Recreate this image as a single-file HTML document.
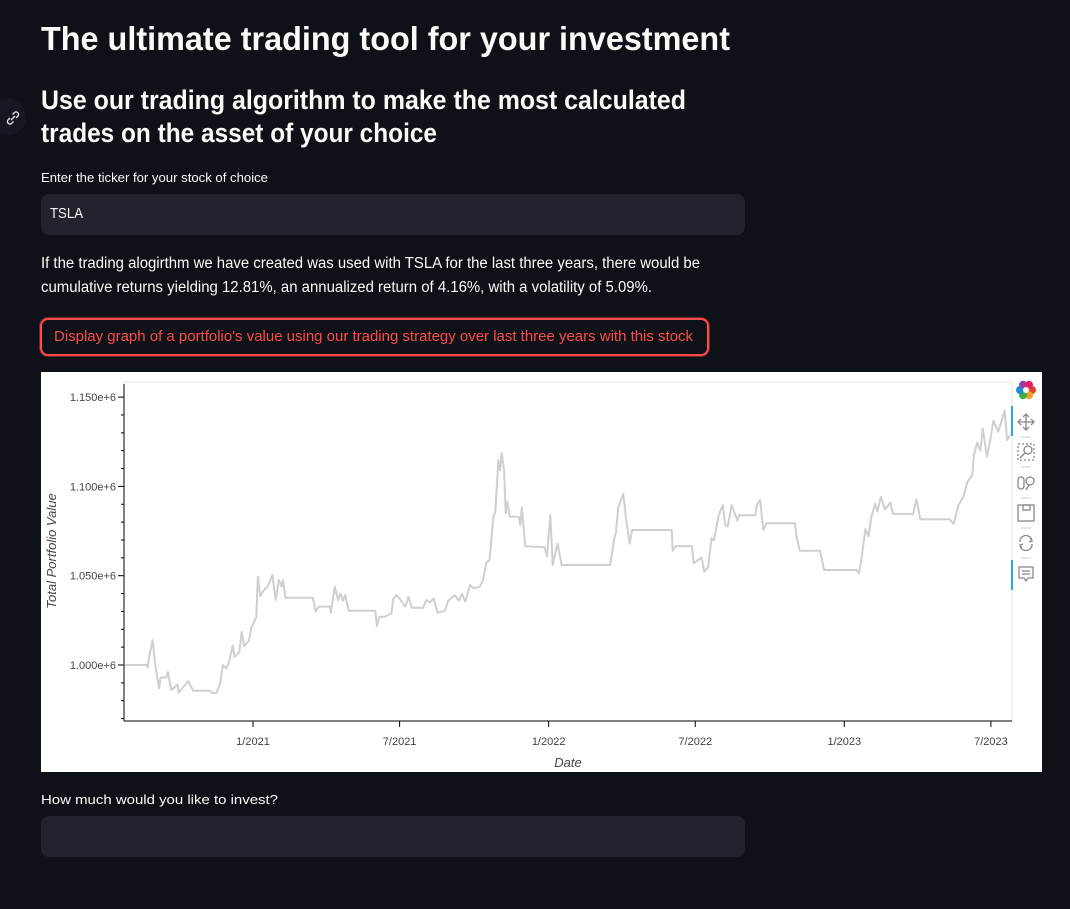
<!DOCTYPE html>
<html><head><meta charset="utf-8">
<style>
html,body{margin:0;padding:0;background:#0e1117;width:1070px;height:909px;overflow:hidden;font-family:"Liberation Sans",sans-serif;color:#fafafa}
.t{position:absolute;white-space:nowrap;transform-origin:0 50%;line-height:1}
.box{position:absolute;background:#21222b;border-radius:8px}
</style></head><body>
<div class="t fit" data-w="689" style="left:41px;top:22px;font-size:33px;font-weight:bold">The ultimate trading tool for your investment</div>
<div style="position:absolute;left:-12px;top:98px;width:38px;height:38px;border-radius:50%;background:#151821"></div>
<svg style="position:absolute;left:4px;top:109px" width="18" height="18" viewBox="0 0 18 18"><path d="M7 11l4-4M6 9l-2 2a2.5 2.5 0 0 0 3.5 3.5l2-2M12 9l2-2a2.5 2.5 0 0 0-3.5-3.5l-2 2" stroke="#e6e6e6" stroke-width="1.4" fill="none"/></svg>
<div class="t fit" data-w="645" style="left:41px;top:87px;font-size:27px;font-weight:bold">Use our trading algorithm to make the most calculated</div>
<div class="t fit" data-w="396" style="left:41px;top:120px;font-size:27px;font-weight:bold">trades on the asset of your choice</div>
<div class="t fit" data-w="227" style="left:41px;top:171px;font-size:13px">Enter the ticker for your stock of choice</div>
<div class="box" style="left:41px;top:194px;width:704px;height:41px"></div>
<div class="t fit" data-w="33" style="left:50px;top:206px;font-size:15px">TSLA</div>
<div class="t fit" data-w="659" style="left:41px;top:256px;font-size:15.5px">If the trading alogirthm we have created was used with TSLA for the last three years, there would be</div>
<div class="t fit" data-w="611" style="left:41px;top:280px;font-size:15.5px">cumulative returns yielding 12.81%, an annualized return of 4.16%, with a volatility of 5.09%.</div>
<div style="position:absolute;left:40px;top:318px;width:665px;height:34px;border:2px solid #ff4b4b;border-radius:8px;box-shadow:0 0 0 1px rgba(255,75,75,0.4)"></div>
<div class="t fit" data-w="639" style="left:54px;top:329px;font-size:15px;color:#ff4b4b">Display graph of a portfolio's value using our trading strategy over last three years with this stock</div>

<div style="position:absolute;left:41px;top:372px;width:1001px;height:400px;background:#fff"></div>
<svg id="chart" style="position:absolute;left:0;top:0" width="1070" height="909"></svg>

<div class="t fit" data-w="237" style="left:41px;top:793px;font-size:13px">How much would you like to invest?</div>
<div class="box" style="left:41px;top:816px;width:704px;height:41px"></div>

<script>
// days since 2021-01-01
const days = [-158,-131,-130,-128,-124,-121,-116,-114,-107,-105,-101,-93,-92,-80,-74,-53,-51,-45,-41,-37,-33,-30,-25,-23,-17,-14,-11,-5,-2,4,6,9,13,19,24,28,32,35,37,40,74,77,81,95,96,101,105,108,111,114,118,151,153,156,163,171,173,177,182,188,192,196,210,214,218,223,228,237,241,249,254,258,262,268,272,280,284,288,292,297,299,303,305,307,310,312,314,317,328,330,332,336,360,363,367,370,376,381,441,446,448,451,457,461,465,468,517,518,522,542,544,554,557,562,566,569,575,580,583,586,591,598,600,620,622,626,630,634,669,671,675,700,705,745,748,751,756,760,763,768,771,775,780,787,790,815,819,824,860,865,871,877,882,888,890,894,898,901,906,911,914,920,928,931,935];
const values = [1000,1000,998.5,1005,1014,1001,987,993,993,996,986,989,984.5,991,985.6,985.6,984.5,984.5,989,1000,998,1001,1011,1004.5,1007,1018.6,1010.6,1013.6,1021,1026.7,1049.5,1038.6,1041.6,1044.8,1050.4,1036.4,1047.6,1044,1047.6,1037.7,1037.7,1029.9,1032.7,1032.7,1029.3,1043.8,1036.4,1040,1036,1039.2,1030.4,1030.4,1021.8,1027,1027,1029,1036.8,1039.2,1036.5,1032.7,1038.2,1032.1,1032.1,1036.4,1035,1037.3,1029.3,1030.4,1036,1039.2,1036,1039.8,1035.5,1044.8,1043,1043.8,1047.6,1057.3,1058.8,1084,1084.9,1114.8,1109,1118.6,1109,1085,1091.5,1083,1083,1078.4,1088.3,1066.6,1065.9,1061,1084,1056,1068,1056,1056,1071,1074,1088.3,1095.8,1080.3,1068,1075.6,1075.6,1064,1066.6,1066.6,1057,1060.2,1052.2,1055,1071,1069.7,1084,1089.6,1078.4,1077.5,1089.6,1080.8,1083.8,1083.8,1089.6,1092.4,1075.6,1079.4,1079.4,1072,1064,1064,1053.2,1053.2,1051.3,1058.8,1076,1072,1082,1090.4,1086,1094.2,1087,1091,1084.6,1084.6,1092.8,1081.6,1081.6,1079,1089.6,1094.2,1102.6,1106.4,1117.6,1124.5,1120,1132.5,1116.6,1128,1136.8,1130.6,1142.4,1126,1128.8];
const yTicks = [1000,1050,1100,1150];
const yTickLabels = ["1.000e+6","1.050e+6","1.100e+6","1.150e+6"];
const xTicks = [0,181,365,546,730,911];
const xTickLabels = ["1/2021","7/2021","1/2022","7/2022","1/2023","7/2023"];

const L=124,R=1012,T=382,B=721;
const x = d => 253 + d*0.81;
const y = v => 665 - (v-1000)*(89.3/50);
const NS="http://www.w3.org/2000/svg";
const svg=document.getElementById('chart');
function mk(tag,attrs,parent){const e=document.createElementNS(NS,tag);for(const k in attrs)e.setAttribute(k,attrs[k]);(parent||svg).appendChild(e);return e;}

const frame=mk('rect',{x:L,y:T,width:R-L,height:B-T,fill:'none',stroke:'#e5e5e5','stroke-width':1});



let pts=days.map((d,i)=>x(d).toFixed(1)+','+y(values[i]).toFixed(1)).join(' ');
const line=mk('polyline',{points:pts,fill:'none',stroke:'#cfcfcf','stroke-width':2,'stroke-linejoin':'round'});



const ax=mk('line',{x1:L,y1:T+2,x2:L,y2:B,stroke:'#000','stroke-width':1});


const bx=mk('line',{x1:L,y1:B,x2:R,y2:B,stroke:'#000','stroke-width':1});



for(let v=970;v<=1150;v+=10){const yy=y(v);if(yy<T||yy>B)continue;const major=yTicks.indexOf(v)>=0;
  const tk=mk('line',{x1:L-(major?6:3),y1:yy,x2:L,y2:yy,stroke:'#000'});
  
  }
yTicks.forEach((v,i)=>{const t=mk('text',{x:L-8,y:y(v)+4,'text-anchor':'end','font-size':11,fill:'#444','font-family':'Liberation Sans, sans-serif'});t.textContent=yTickLabels[i];
  
  });
xTicks.forEach((d,i)=>{const xx=x(d);
  const tk=mk('line',{x1:xx,y1:B,x2:xx,y2:B+6,stroke:'#000'});
  
  
  const t=mk('text',{x:xx,y:B+24,'text-anchor':'middle','font-size':11,fill:'#444','font-family':'Liberation Sans, sans-serif'});t.textContent=xTickLabels[i];
  
  });
const xt=mk('text',{x:568,y:767,'text-anchor':'middle','font-size':13,'font-style':'italic',fill:'#444','font-family':'Liberation Sans, sans-serif'});xt.textContent='Date';


const yt=mk('text',{x:0,y:0,'text-anchor':'middle','font-size':13,'font-style':'italic',fill:'#444','font-family':'Liberation Sans, sans-serif',transform:'translate(56,551) rotate(-90)'});yt.textContent='Total Portfolio Value';



// toolbar
const tb=mk('g',{});


const cols=['#e5412d','#f0a322','#3aae49','#1d8fd3','#8e44ad','#e91e63'];
cols.forEach((c,i)=>{const a=i*Math.PI/3;mk('circle',{cx:1026+6*Math.cos(a),cy:390+6*Math.sin(a),r:4,fill:c},tb);});
mk('circle',{cx:1026,cy:390,r:3,fill:'#fff'},tb);
[[406,436],[560,590]].forEach(r=>{const b=mk('rect',{x:1011,y:r[0],width:2,height:r[1]-r[0],fill:'#26aae1'});
  
  });
const icons=[['pan-tool',422],['box-zoom-tool',452],['wheel-zoom-tool',483],['save-tool',513],['reset-tool',543],['hover-tool',574]];
icons.forEach(ic=>{const g=mk('g',{transform:'translate(1026,'+ic[1]+')'});
  
  
  const s={stroke:'#888',fill:'none','stroke-width':1.3};
  if(ic[0]==='pan-tool'){mk('path',Object.assign({d:'M-8 0H8M0 -8V8M-5 -3L-8 0L-5 3M5 -3L8 0L5 3M-3 -5L0 -8L3 -5M-3 5L0 8L3 5'},s),g);}
  else if(ic[0]==='box-zoom-tool'){mk('rect',Object.assign({x:-8,y:-8,width:16,height:16,'stroke-dasharray':'2 2'},s),g);mk('circle',Object.assign({cx:2,cy:-2,r:4},s),g);mk('path',Object.assign({d:'M-1 1L-6 6'},s),g);}
  else if(ic[0]==='wheel-zoom-tool'){mk('rect',Object.assign({x:-8,y:-6,width:6,height:12,rx:3},s),g);mk('circle',Object.assign({cx:4,cy:-2,r:4},s),g);mk('path',Object.assign({d:'M3 2L0 7'},s),g);}
  else if(ic[0]==='save-tool'){mk('rect',Object.assign({x:-8,y:-8,width:16,height:16},s),g);mk('rect',Object.assign({x:-3,y:-8,width:7,height:5},s),g);}
  else if(ic[0]==='reset-tool'){mk('path',Object.assign({d:'M-6 -1A6 6 0 0 1 6 -2M6 1A6 6 0 0 1 -6 2M4 -5L6 -2L3 -1M-4 5L-6 2L-3 1'},s),g);}
  else {mk('path',Object.assign({d:'M-7 -7H7V4H2L0 7L-2 4H-7Z M-4 -3H4M-4 0H4'},s),g);}
});
[437,467,498,528,558].forEach(yy=>mk('line',{x1:1021,y1:yy,x2:1031,y2:yy,stroke:'#ccc'},tb));

// fit text widths
document.querySelectorAll('.fit').forEach(e=>{const w=+e.dataset.w;const cw=e.getBoundingClientRect().width;if(cw>0)e.style.transform='scaleX('+(w/cw)+')';});
</script>
</body></html>
